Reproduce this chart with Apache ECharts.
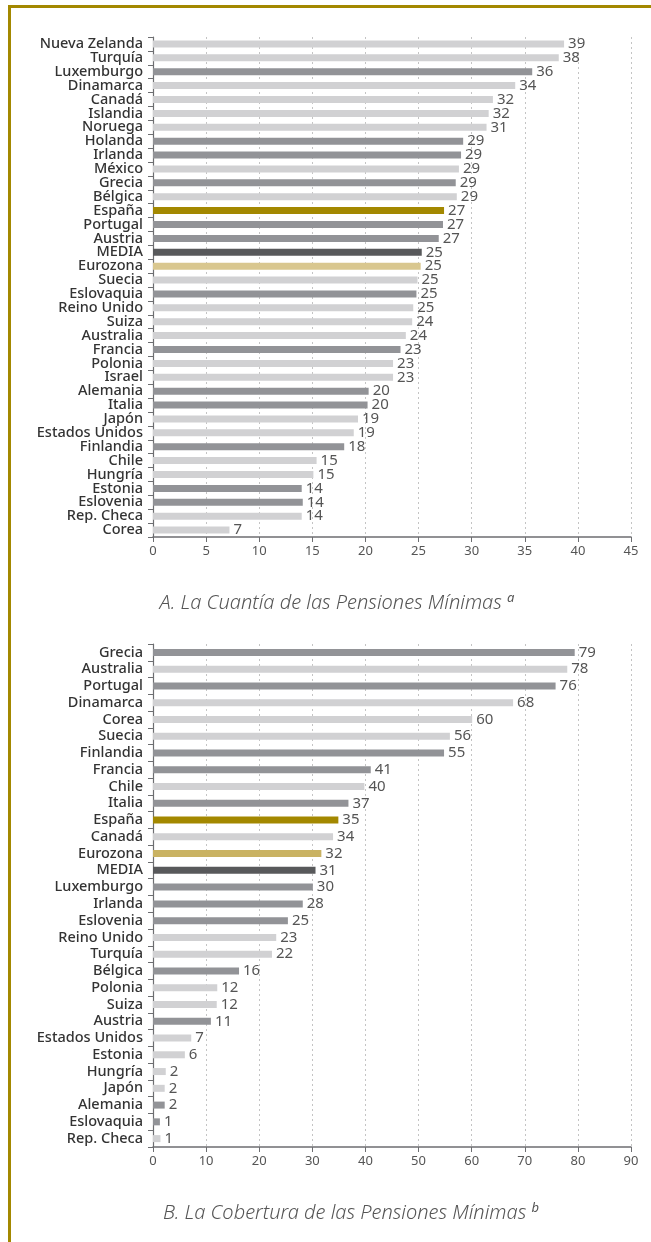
<!DOCTYPE html>
<html><head><meta charset="utf-8">
<script src="https://cdn.jsdelivr.net/npm/echarts@6/dist/echarts.min.js"></script>
<style>html,body{margin:0;padding:0;background:#fff}#c{width:651px;height:1242px}</style>
</head><body><div id="c"></div>
<script>
// Panel A: La Cuantía de las Pensiones Mínimas
const catsA = ['Nueva Zelanda','Turquía','Luxemburgo','Dinamarca','Canadá','Islandia','Noruega','Holanda','Irlanda','México','Grecia','Bélgica','España','Portugal','Austria','MEDIA','Eurozona','Suecia','Eslovaquia','Reino Unido','Suiza','Australia','Francia','Polonia','Israel','Alemania','Italia','Japón','Estados Unidos','Finlandia','Chile','Hungría','Estonia','Eslovenia','Rep. Checa','Corea'];
const valsA = [38.7,38.2,35.7,34.1,32.0,31.6,31.4,29.2,29.0,28.8,28.5,28.6,27.4,27.3,26.9,25.3,25.2,24.9,24.8,24.5,24.4,23.8,23.3,22.6,22.6,20.3,20.2,19.3,18.9,18.0,15.4,15.1,14.0,14.1,14.0,7.2];
const typeA = ['l','l','d','l','l','l','l','d','d','l','d','l','es','d','d','m','ez','l','d','l','l','l','d','l','l','d','d','l','l','d','l','l','d','d','l','l'];
const ticksA = [0,5,10,15,20,25,30,35,40,45];

// Panel B: La Cobertura de las Pensiones Mínimas
const catsB = ['Grecia','Australia','Portugal','Dinamarca','Corea','Suecia','Finlandia','Francia','Chile','Italia','España','Canadá','Eurozona','MEDIA','Luxemburgo','Irlanda','Eslovenia','Reino Unido','Turquía','Bélgica','Polonia','Suiza','Austria','Estados Unidos','Estonia','Hungría','Japón','Alemania','Eslovaquia','Rep. Checa'];
const valsB = [79.4,78.0,75.8,67.8,60.1,55.9,54.8,41.0,39.8,36.8,34.9,33.9,31.7,30.6,30.1,28.2,25.4,23.2,22.4,16.2,12.1,12.0,10.9,7.2,6.0,2.4,2.2,2.2,1.3,1.4];
const typeB = ['d','l','d','l','l','l','d','d','l','d','es','l','ez','m','d','d','d','l','l','d','l','l','d','l','l','l','l','d','d','l'];
const ticksB = [0,10,20,30,40,50,60,70,80,90];

const colorMap = {l:'#d1d1d3', d:'#929397', m:'#58595b', es:'#a38800', ez:'#d9c78f'};
const colorMapB = {l:'#d1d1d3', d:'#929397', m:'#58595b', es:'#a38800', ez:'#c9b262'};
const FONT = 'Noto Sans';

function mkData(vals, types, cmap){
  return vals.map((v,i)=>({value:v, itemStyle:{color:cmap[types[i]]}}));
}
function xAx(idx, ticks){
  return {gridIndex:idx, type:'value', min:ticks[0], max:ticks[ticks.length-1], interval:ticks[1]-ticks[0],
    axisLine:{show:true, lineStyle:{color:'#6d6e71', width:1.5}},
    axisTick:{show:true, length:5, lineStyle:{color:'#6d6e71'}},
    axisLabel:{color:'#555', fontFamily:FONT, fontSize:13, margin:8},
    splitLine:{show:true, lineStyle:{color:'#c4c4c4', type:[2,3], width:1}}};
}
function yAx(idx, cats){
  return {gridIndex:idx, type:'category', data:cats, inverse:true,
    axisLine:{show:true, lineStyle:{color:'#6d6e71', width:1.2}},
    axisTick:{show:true, length:5, lineStyle:{color:'#6d6e71'}},
    axisLabel:{interval:0, hideOverlap:false, color:'#333', fontFamily:FONT, fontSize:14.5, fontWeight:500, margin:10, lineHeight:13},
    splitLine:{show:false}};
}
const labelStyle = {show:true, position:'right', distance:4, color:'#555', fontFamily:FONT, fontSize:15,
  formatter:p=>Math.round(p.value)};

const chart = echarts.init(document.getElementById('c'), null, {renderer:'canvas'});
chart.setOption({
  animation:false,
  backgroundColor:'#fff',
  grid:[
    {left:153, right:20, top:37, height:500},
    {left:153, right:20, top:644, height:503}
  ],
  xAxis:[xAx(0,ticksA), xAx(1,ticksB)],
  yAxis:[yAx(0,catsA), yAx(1,catsB)],
  series:[
    {type:'bar', xAxisIndex:0, yAxisIndex:0, barWidth:7, data:mkData(valsA,typeA,colorMap), label:labelStyle},
    {type:'bar', xAxisIndex:1, yAxisIndex:1, barWidth:7, data:mkData(valsB,typeB,colorMapB), label:labelStyle}
  ],
  graphic:[
    {type:'rect', shape:{x:8, y:5, width:643, height:3}, style:{fill:'#a38800'}},
    {type:'rect', shape:{x:8, y:5, width:3, height:1237}, style:{fill:'#a38800'}},
    {type:'text', x:337, y:603, style:{
      text:'{t|A. La Cuantía de las Pensiones Mínimas }{s|a}', align:'center', verticalAlign:'middle',
      rich:{t:{fontFamily:FONT, fontStyle:'italic', fontSize:20, fill:'#555', fontWeight:300},
            s:{fontFamily:FONT, fontStyle:'italic', fontSize:13, fill:'#555', verticalAlign:'top', padding:[0,0,10,0]}}}},
    {type:'text', x:351, y:1213, style:{
      text:'{t|B. La Cobertura de las Pensiones Mínimas }{s|b}', align:'center', verticalAlign:'middle',
      rich:{t:{fontFamily:FONT, fontStyle:'italic', fontSize:20, fill:'#555', fontWeight:300},
            s:{fontFamily:FONT, fontStyle:'italic', fontSize:13, fill:'#555', verticalAlign:'top', padding:[0,0,10,0]}}}}
  ]
});
</script></body></html>
